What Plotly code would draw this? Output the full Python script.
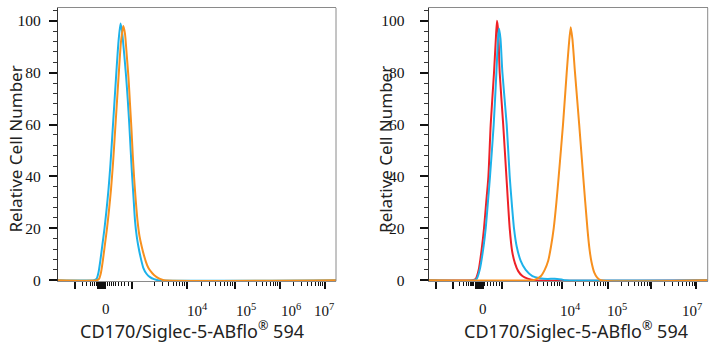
import math
import plotly.graph_objects as go

# ---------------- data (display channel units along the biexponential axis) ----------------
# Left panel
left_cyan_x = [0, 36, 38.5, 40.5, 42.5, 44.5, 46.5, 48.5, 50.5, 52.5, 54.5, 56.5, 58.5, 60.5, 62.5,
               64, 66, 68, 69.7, 71.3, 72.7, 74, 75.5, 77, 78.7, 80.3, 82.5, 85.3, 88.5, 92, 96, 100, 278]
left_cyan_y = [0, 0, 0.5, 3, 8, 14, 20, 27, 35, 45, 57, 69, 81, 92, 99,
               96, 88, 79, 70, 60, 50, 41, 32, 23, 17, 13.2, 9, 4.8, 2.5, 1.2, 0.4, 0, 0]
left_orange_x = [0, 39, 41, 43, 45, 47, 49, 51, 53, 55, 57, 59, 61, 63, 65.3, 67, 68.7,
                 70.5, 72, 73.5, 74.8, 76.2, 77.7, 79.5, 81.5, 83.7, 86, 88, 90.3, 93, 96, 98.7, 102, 106, 278]
left_orange_y = [0, 0, 0.5, 3, 8, 14, 20, 27, 35, 45, 57, 69, 81, 92, 98, 95, 87,
                 78, 68, 58, 48, 39, 31, 23, 17, 13, 9.5, 7, 4.8, 3.3, 2, 1.2, 0.5, 0, 0]

# Right panel
right_red_x = [0, 44, 47, 50, 53, 55.3, 57.5, 59.7, 62, 65.3, 67, 68.3, 69.5, 71, 74.5, 77.7, 81,
               83.5, 86.3, 89.5, 93.7, 99, 107, 279]
right_red_y = [0, 0, 0.5, 4, 12, 20, 30, 40, 60, 80, 92, 100, 96, 80, 60, 40, 20,
               11, 6.5, 3.5, 1.6, 0.6, 0, 0]
right_cyan_x = [0, 46, 48, 51, 54.5, 57, 59.2, 61.3, 65, 67.7, 69.3, 70.3, 71.8, 73.7, 78, 81, 83,
                85.3, 88, 92, 97, 103.7, 111, 119, 126, 133.7, 137, 279]
right_cyan_y = [0, 0, 0.5, 4, 12, 20, 30, 40, 60, 80, 93, 97, 93, 80, 60, 40, 30,
                20, 13, 7.5, 4, 1.6, 0.8, 0.5, 0.6, 0.2, 0, 0]
right_orange_x = [0, 104, 107, 112, 116, 119.5, 122.3, 125, 127.7, 130, 134.3, 138, 140, 142,
                  143.7, 146.3, 150.5, 154.5, 158.7, 160.8, 162.8, 165.5, 168.5, 172, 279]
right_orange_y = [0, 0, 0.3, 1.5, 4, 7.5, 13, 20, 30, 40, 60, 80, 90, 97.5,
                  93, 80, 60, 40, 20, 12, 7, 3, 1, 0, 0]

y_ticks = [0, 20, 40, 60, 80, 100]
x_tick_labels = ["0", "10<sup>4</sup>", "10<sup>5</sup>", "10<sup>6</sup>", "10<sup>7</sup>"]
right_tick_labels = ["0", "10<sup>4</sup>", "10<sup>5</sup>", "10<sup>7</sup>"]

# ---------------- axis geometry ----------------
L_RANGE = [0, 278]
R_RANGE = [0, 279]
left_major = [17, 74, 129, 177, 222, 267] + [40 + 0.8 * i for i in range(10)]
left_decades = [(83, 46), (129, 48), (177, 45), (222, 45)]
left_minor = [17 + 25 * math.log10(k) for k in range(2, 10)] + [49, 51, 53, 55, 57.5, 60, 63, 66.5, 70]
for s, w in left_decades:
    left_minor += [s + w * math.log10(k) for k in range(2, 10)]
left_label_pos = [48, 139, 187.5, 232.5, 266]

right_major = [7.7, 24.3, 73.7, 133, 179.3, 222.7, 267.7] + [47 + 0.8 * i for i in range(10)]
right_decades = [(87, 46), (133, 46.3), (179.3, 43.4), (222.7, 45)]
right_minor = [24.3 + 22 * math.log10(k) for k in range(2, 10)] + [56, 59, 62, 64.5, 67.5, 70.5]
for s, w in right_decades:
    right_minor += [s + w * math.log10(k) for k in range(2, 10)]
right_label_pos = [54, 142, 188, 263.5]

CYAN = "#1DB2EA"
ORANGE = "#F7901E"
RED = "#EE2127"
LW = 2

fig = go.Figure()

def add_line(x, y, color, xa, ya):
    fig.add_trace(go.Scatter(x=x, y=y, mode="lines", xaxis=xa, yaxis=ya,
                             line=dict(color=color, width=LW, shape="spline", smoothing=0.6),
                             showlegend=False, hoverinfo="skip"))

add_line(left_cyan_x, left_cyan_y, CYAN, "x", "y")
add_line(left_orange_x, left_orange_y, ORANGE, "x", "y")
add_line(right_red_x, right_red_y, RED, "x2", "y2")
add_line(right_cyan_x, right_cyan_y, CYAN, "x2", "y2")
add_line(right_orange_x, right_orange_y, ORANGE, "x2", "y2")

W, H = 716, 350
TOP, BOT = 8, 287
ydom = [(H - BOT) / H, (H - TOP) / H]
L_DOM = [58 / W, 336 / W]
R_DOM = [428.7 / W, 707.7 / W]

serif = "Liberation Serif, Times New Roman, serif"
ytickfont = dict(family=serif, size=15.5, color="#111")
xtickfont = dict(family=serif, size=15, color="#111")

def xaxis_cfg(dom, rng, major, minor):
    return dict(domain=dom, range=rng, showgrid=False, zeroline=False,
                showline=True, linecolor="#8a8a8a", linewidth=1, mirror=True,
                tickmode="array", tickvals=major, ticks="outside", ticklen=7,
                tickwidth=1.5, tickcolor="#111", showticklabels=False,
                minor=dict(tickmode="array", tickvals=minor, ticks="outside", ticklen=3.5,
                           tickwidth=1, tickcolor="#111"))

def yaxis_cfg(anchor, standoff):
    return dict(domain=ydom, range=[-0.4, 105], anchor=anchor, showgrid=False, zeroline=False,
                showline=True, linecolor="#333", linewidth=1.2,
                tickmode="array", tickvals=y_ticks, ticks="outside", ticklen=8,
                tickwidth=1.5, tickcolor="#111", tickfont=ytickfont,
                ticklabelstandoff=standoff,
                minor=dict(dtick=4, ticks="outside", ticklen=3.5, tickwidth=1, tickcolor="#333"))

fig.update_layout(
    width=W, height=H, margin=dict(l=0, r=0, t=0, b=0),
    paper_bgcolor="white", plot_bgcolor="white",
    xaxis=xaxis_cfg(L_DOM, L_RANGE, left_major, left_minor) | dict(anchor="y"),
    yaxis=yaxis_cfg("x", 5),
    xaxis2=xaxis_cfg(R_DOM, R_RANGE, right_major, right_minor) | dict(anchor="y2"),
    yaxis2=yaxis_cfg("x2", 12),
)

# right frame lines (gray)
for xr, yr in (("x domain", "y domain"), ("x2 domain", "y2 domain")):
    fig.add_shape(type="line", xref=xr, yref=yr, x0=1, x1=1, y0=0, y1=1,
                  line=dict(color="#8a8a8a", width=1))

ann = []
label_y = (H - 306) / H
zero_y = (H - 315) / H
for pos, txt in zip(left_label_pos, x_tick_labels):
    if txt == "0":
        ann.append(dict(x=pos, y=zero_y, xref="x", yref="paper", text=txt, showarrow=False,
                        xanchor="center", yanchor="middle", font=xtickfont, borderpad=0))
    else:
        ann.append(dict(x=pos, y=label_y, xref="x", yref="paper", text=txt, showarrow=False,
                        xanchor="center", yanchor="top", font=xtickfont, borderpad=0))
for pos, txt in zip(right_label_pos, right_tick_labels):
    if txt == "0":
        ann.append(dict(x=pos, y=zero_y, xref="x2", yref="paper", text=txt, showarrow=False,
                        xanchor="center", yanchor="middle", font=xtickfont, borderpad=0))
    else:
        ann.append(dict(x=pos, y=label_y, xref="x2", yref="paper", text=txt, showarrow=False,
                        xanchor="center", yanchor="top", font=xtickfont, borderpad=0))

sans = "Noto Sans, Open Sans, sans-serif"
xtitlefont = dict(family=sans, size=18, color="#222")
ytitlefont = dict(family=sans, size=17, color="#222")
xtitle = "CD170/Siglec-5-ABflo<sup>®</sup> 594"
ytitle = "Relative Cell Number"
ann.append(dict(x=191.5 / W, y=(H - 337) / H, xref="paper", yref="paper", text=xtitle,
                showarrow=False, xanchor="center", yanchor="middle", font=xtitlefont, borderpad=0))
ann.append(dict(x=576 / W, y=(H - 337) / H, xref="paper", yref="paper", text=xtitle,
                showarrow=False, xanchor="center", yanchor="middle", font=xtitlefont, borderpad=0))
ann.append(dict(x=15 / W, y=(H - 152.5) / H, xref="paper", yref="paper", text=ytitle, textangle=-90,
                showarrow=False, xanchor="center", yanchor="middle", font=ytitlefont))
ann.append(dict(x=386 / W, y=(H - 153) / H, xref="paper", yref="paper", text=ytitle, textangle=-90,
                showarrow=False, xanchor="center", yanchor="middle", font=ytitlefont))
fig.update_layout(annotations=ann)

fig.write_html("out.html")
